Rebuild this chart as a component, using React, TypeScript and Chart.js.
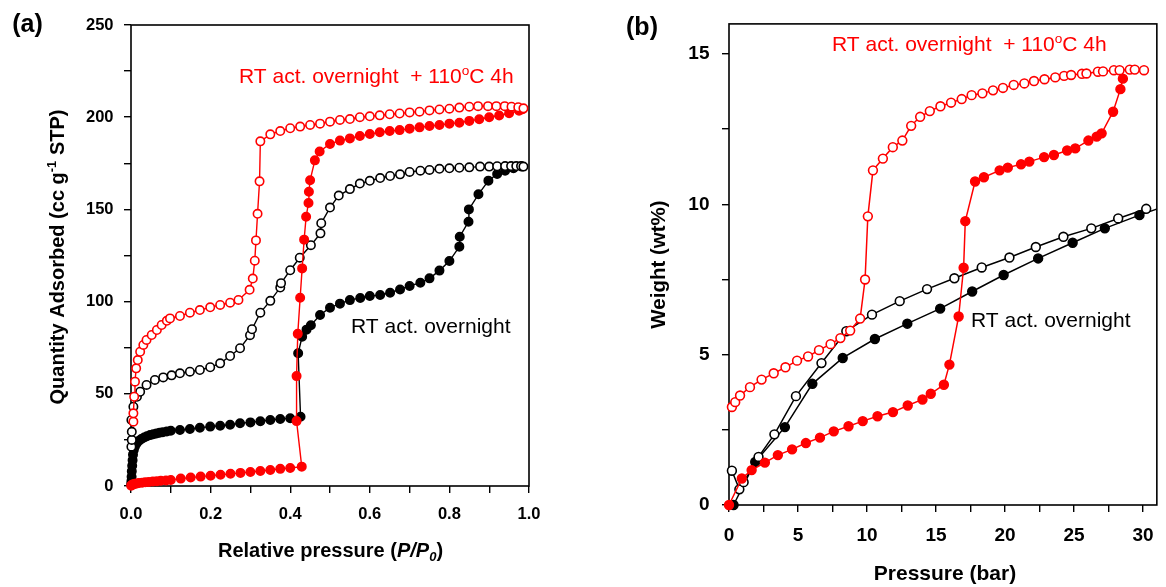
import React, { useEffect, useRef } from 'react';
import { Chart, registerables } from 'chart.js';

Chart.register(...registerables);

const FONT = '"Liberation Sans", Arial, Helvetica, sans-serif';

// ---------- Panel (a): Quantity adsorbed vs P/P0 ----------
const aXTicks = [0, 0.1, 0.2, 0.3, 0.4, 0.5, 0.6, 0.7, 0.8, 0.9, 1.0];
const aYTicks = [0, 25, 50, 75, 100, 125, 150, 175, 200, 225, 250];

// RT act. overnight + 110oC 4h, adsorption (filled red)
const aRedAds: [number, number][] = [
  [0.0005, 0.2], [0.002, 0.5], [0.004, 0.8], [0.007, 1.0], [0.01, 1.2], [0.015, 1.4], [0.02, 1.6],
  [0.028, 1.8], [0.036, 2.0], [0.045, 2.2], [0.055, 2.4], [0.065, 2.6], [0.075, 2.8], [0.088, 3.0],
  [0.1, 3.3], [0.125, 4.0], [0.15, 4.6], [0.175, 5.1], [0.2, 5.6], [0.225, 6.1], [0.25, 6.6],
  [0.275, 7.1], [0.3, 7.6], [0.325, 8.1], [0.35, 8.7], [0.375, 9.3], [0.4, 9.8], [0.429, 10.5],
  [0.416, 35.2], [0.416, 59.6], [0.419, 82.5], [0.425, 102.1], [0.43, 118], [0.435, 133.6],
  [0.44, 146], [0.446, 153.5], [0.447, 159.6], [0.45, 165.8], [0.462, 176.6], [0.474, 181.4],
  [0.5, 185.5], [0.525, 187.3], [0.55, 188.5], [0.575, 189.8], [0.6, 190.9], [0.625, 191.8],
  [0.65, 192.5], [0.675, 193], [0.7, 193.8], [0.725, 194.5], [0.75, 195.2], [0.775, 195.8],
  [0.8, 196.5], [0.825, 197], [0.85, 198], [0.875, 198.9], [0.9, 200], [0.925, 200.9],
  [0.95, 202.1], [0.975, 203.5], [0.984, 204.3],
];
// RT act. overnight + 110oC 4h, desorption (open red)
const aRedDes: [number, number][] = [
  [0.006, 34.9], [0.006, 39.4], [0.008, 48.4], [0.01, 56.6], [0.013, 63.8], [0.017, 68.3],
  [0.023, 72.8], [0.031, 76.5], [0.039, 79.2], [0.052, 81.9], [0.065, 84.6], [0.077, 87.3],
  [0.09, 89.6], [0.098, 90.9], [0.123, 92.2], [0.148, 94], [0.173, 95.4], [0.199, 96.9],
  [0.224, 98.2], [0.249, 99.4], [0.27, 100.9], [0.298, 106.4], [0.306, 112.5], [0.311, 122.2],
  [0.314, 133.2], [0.318, 147.6], [0.323, 165.2], [0.325, 186.9], [0.35, 190.7], [0.375, 192.5],
  [0.4, 194], [0.425, 194.9], [0.45, 195.8], [0.475, 196.5], [0.5, 197.6], [0.525, 198.5],
  [0.55, 199], [0.575, 200], [0.6, 200.5], [0.625, 201], [0.65, 201.6], [0.675, 202],
  [0.7, 202.6], [0.725, 203], [0.75, 203.7], [0.775, 204.2], [0.8, 204.6], [0.825, 205.2],
  [0.85, 205.7], [0.872, 206], [0.897, 206], [0.918, 206], [0.939, 206], [0.956, 205.7],
  [0.973, 205.4], [0.986, 204.8],
];
// RT act. overnight, adsorption (filled black)
const aBlackAds: [number, number][] = [
  [0.0005, 0.8], [0.001, 2.5], [0.0015, 5], [0.002, 8], [0.003, 11], [0.004, 14], [0.005, 17],
  [0.007, 19.5], [0.01, 21.5], [0.014, 23], [0.02, 24.5], [0.026, 25.5], [0.033, 26.3],
  [0.04, 27], [0.048, 27.6], [0.056, 28.1], [0.064, 28.5], [0.072, 28.9], [0.08, 29.2],
  [0.09, 29.6], [0.1, 30], [0.123, 30.4], [0.148, 30.9], [0.173, 31.6], [0.199, 32.2],
  [0.224, 32.7], [0.249, 33.2], [0.274, 34], [0.3, 34.5], [0.325, 35.1], [0.35, 35.8],
  [0.375, 36.3], [0.4, 36.7], [0.426, 37.6], [0.42, 72], [0.43, 81], [0.441, 84.8],
  [0.452, 87.2], [0.475, 92.7], [0.5, 96.7], [0.525, 98.9], [0.55, 100.8], [0.576, 102],
  [0.6, 103], [0.626, 103.6], [0.651, 104.8], [0.676, 106.6], [0.7, 108.5], [0.727, 110.2],
  [0.75, 112.6], [0.775, 116.8], [0.8, 122], [0.825, 129.8], [0.826, 135.2], [0.848, 143.3],
  [0.849, 150], [0.873, 158.2], [0.898, 165.6], [0.92, 169.2], [0.94, 171], [0.961, 172.3],
  [0.982, 173.2],
];
// RT act. overnight, desorption (open black)
const aBlackDes: [number, number][] = [
  [0.001, 21.3], [0.002, 25], [0.002, 29.4], [0.001, 35.8], [0.006, 43], [0.015, 48.4],
  [0.023, 51.1], [0.039, 54.8], [0.06, 57.5], [0.081, 58.9], [0.102, 60], [0.123, 61.1],
  [0.148, 62], [0.173, 62.9], [0.199, 64.4], [0.224, 66.5], [0.249, 70.5], [0.274, 74.7],
  [0.299, 81.8], [0.304, 85], [0.325, 94], [0.35, 100.4], [0.375, 107.6], [0.377, 110],
  [0.4, 117], [0.424, 123.8], [0.452, 130.6], [0.476, 137], [0.478, 142.5], [0.5, 151],
  [0.522, 157.5], [0.55, 161], [0.575, 164], [0.6, 165.5], [0.626, 167], [0.651, 168.1],
  [0.676, 169], [0.7, 170.3], [0.727, 171], [0.75, 171.4], [0.775, 172], [0.8, 172.3],
  [0.825, 172.6], [0.85, 172.8], [0.877, 173.2], [0.9, 173.2], [0.92, 173.4], [0.94, 173.5],
  [0.955, 173.5], [0.968, 173.5], [0.98, 173.5], [0.986, 173.2],
];

// ---------- Panel (b): Weight (wt%) vs Pressure (bar) ----------
const bXTicks = [0, 2.5, 5, 7.5, 10, 12.5, 15, 17.5, 20, 22.5, 25, 27.5, 30];
const bYTicks = [0, 2.5, 5, 7.5, 10, 12.5, 15];

const bRedAds: [number, number][] = [
  [0, 0], [0.93, 0.88], [1.64, 1.16], [2.6, 1.41], [3.54, 1.66], [4.57, 1.85], [5.57, 2.06],
  [6.59, 2.24], [7.59, 2.45], [8.66, 2.62], [9.69, 2.79], [10.76, 2.95], [11.88, 3.09],
  [12.95, 3.31], [14.02, 3.51], [14.62, 3.7], [15.57, 4.0], [15.97, 4.67], [16.64, 6.27],
  [17.0, 7.89], [17.12, 9.44], [17.83, 10.76], [18.47, 10.9], [19.61, 11.13], [20.2, 11.22],
  [21.16, 11.33], [21.76, 11.42], [22.83, 11.57], [23.54, 11.64], [24.5, 11.79], [25.09, 11.86],
  [26.04, 12.12], [26.64, 12.25], [27.0, 12.36], [27.83, 13.08], [28.36, 13.83], [28.54, 14.18],
];
const bRedDes: [number, number][] = [
  [0.21, 3.26], [0.45, 3.42], [0.8, 3.64], [1.52, 3.92], [2.36, 4.17], [3.24, 4.38], [4.09, 4.58],
  [4.93, 4.8], [5.73, 4.94], [6.52, 5.15], [7.36, 5.35], [8.07, 5.55], [8.78, 5.8], [9.5, 6.2],
  [9.86, 7.5], [10.06, 9.6], [10.43, 11.13], [11.15, 11.52], [11.87, 11.9], [12.56, 12.12],
  [13.2, 12.61], [13.85, 12.91], [14.55, 13.1], [15.32, 13.26], [16.09, 13.38], [16.86, 13.5],
  [17.58, 13.63], [18.36, 13.69], [19.13, 13.79], [19.85, 13.87], [20.63, 13.97], [21.4, 14.02],
  [22.1, 14.1], [22.86, 14.16], [23.64, 14.22], [24.28, 14.27], [24.79, 14.3], [25.57, 14.34],
  [25.9, 14.35], [26.73, 14.41], [27.1, 14.42], [27.89, 14.46], [28.3, 14.46], [29.04, 14.48],
  [29.4, 14.48], [30.07, 14.46],
];
const bBlackAds: [number, number][] = [
  [0.33, 0], [1.9, 1.43], [4.05, 2.59], [6.04, 4.03], [8.24, 4.89], [10.57, 5.52], [12.92, 6.03],
  [15.3, 6.53], [17.62, 7.1], [19.9, 7.65], [22.4, 8.2], [24.9, 8.72], [27.23, 9.2], [29.74, 9.64],
  [31.5, 9.92],
];
const bBlackDes: [number, number][] = [
  [0.21, 1.14], [0.75, 0.52], [1.06, 0.76], [2.14, 1.6], [3.29, 2.35], [4.85, 3.62], [6.7, 4.72],
  [8.5, 5.78], [10.36, 6.33], [12.37, 6.78], [14.35, 7.18], [16.33, 7.54], [18.31, 7.9],
  [20.32, 8.23], [22.23, 8.58], [24.23, 8.92], [26.25, 9.2], [28.2, 9.53], [30.23, 9.85],
];

const RED = '#ff0000';
const BLACK = '#000000';

type Seg = { t: string; it?: boolean; sub?: boolean; sup?: boolean };
type Label = {
  x: number; y: number; size: number; bold?: boolean; color: string;
  align: 'left' | 'center'; rot?: number; segs: Seg[];
};

function drawRich(ctx: CanvasRenderingContext2D, L: Label) {
  ctx.save();
  ctx.translate(L.x, L.y);
  if (L.rot) ctx.rotate(L.rot);
  ctx.fillStyle = L.color;
  ctx.textBaseline = 'alphabetic';
  ctx.textAlign = 'left';
  const fnt = (seg: Seg) => {
    const s = seg.sub || seg.sup ? L.size * 0.65 : L.size;
    return `${seg.it ? 'italic ' : ''}${L.bold ? 'bold ' : ''}${s}px ${FONT}`;
  };
  let total = 0;
  const widths = L.segs.map((seg) => {
    ctx.font = fnt(seg);
    const w = ctx.measureText(seg.t).width;
    total += w;
    return w;
  });
  let x = L.align === 'center' ? -total / 2 : 0;
  L.segs.forEach((seg, i) => {
    ctx.font = fnt(seg);
    const dy = seg.sub ? L.size * 0.2 : seg.sup ? -L.size * 0.4 : 0;
    ctx.fillText(seg.t, x, dy);
    x += widths[i];
  });
  ctx.restore();
}

function series(pts: [number, number][], color: string, filled: boolean, r: number, lw: number, clip?: any) {
  return {
    data: pts.map(([x, y]) => ({ x, y })),
    showLine: true,
    borderColor: color,
    borderWidth: lw,
    pointRadius: r,
    pointHoverRadius: r,
    pointBorderWidth: 1.6,
    pointBorderColor: color,
    pointBackgroundColor: filled ? color : '#ffffff',
    tension: 0,
    clip: clip || { left: 10, top: 10, right: 10, bottom: 10 },
  };
}

function axis(min: number, max: number, ticks: number[], labelFn: (v: number) => string, size: number, pad: number, fit: (s: any) => void) {
  return {
    type: 'linear' as const,
    min,
    max,
    afterBuildTicks: (s: any) => { s.ticks = ticks.map((v) => ({ value: v })); },
    afterFit: fit,
    ticks: {
      autoSkip: false, maxRotation: 0, minRotation: 0, padding: pad, color: '#000',
      font: { family: FONT, size, weight: 'bold' as const },
      callback: (v: any) => labelFn(Number(v)),
    },
    grid: { display: true, drawOnChartArea: false, drawTicks: true, tickLength: 7, color: '#000', lineWidth: 1.4 },
    border: { display: false },
  };
}

function decoPlugin(labels: Label[]) {
  return {
    id: 'deco',
    beforeDatasetsDraw(chart: any) {
      const { ctx, chartArea: c } = chart;
      ctx.save();
      ctx.strokeStyle = '#000';
      ctx.lineWidth = 1.6;
      ctx.strokeRect(c.left, c.top, c.right - c.left, c.bottom - c.top);
      ctx.restore();
    },
    afterDraw(chart: any) {
      labels.forEach((L) => drawRich(chart.ctx, L));
    },
  };
}

function baseOptions(padding: any, x: any, y: any) {
  return {
    responsive: false,
    animation: false as const,
    events: [] as any[],
    layout: { padding },
    plugins: { legend: { display: false }, tooltip: { enabled: false } },
    scales: { x, y },
  };
}

export default function App() {
  const refA = useRef<HTMLCanvasElement>(null);
  const refB = useRef<HTMLCanvasElement>(null);

  useEffect(() => {
    document.body.style.margin = '0';
    Chart.defaults.font.family = FONT;

    const labelsA: Label[] = [
      { x: 27.5, y: 31.5, size: 25, bold: true, color: '#000', align: 'center', segs: [{ t: '(a)' }] },
      {
        x: 330.5, y: 557.3, size: 20, bold: true, color: '#000', align: 'center',
        segs: [{ t: 'Relative pressure (' }, { t: 'P/P', it: true }, { t: '0', it: true, sub: true }, { t: ')' }],
      },
      {
        x: 64, y: 257, size: 20, bold: true, color: '#000', align: 'center', rot: -Math.PI / 2,
        segs: [{ t: 'Quantity Adsorbed (cc g' }, { t: '-1', sup: true }, { t: ' STP)' }],
      },
      {
        x: 239, y: 83.3, size: 21, color: RED, align: 'left',
        segs: [{ t: 'RT act. overnight  + 110' }, { t: 'o', sup: true }, { t: 'C 4h' }],
      },
      { x: 351, y: 333.1, size: 21, color: '#000', align: 'left', segs: [{ t: 'RT act. overnight' }] },
    ];

    const labelsB: Label[] = [
      { x: 59, y: 34.5, size: 25, bold: true, color: '#000', align: 'center', segs: [{ t: '(b)' }] },
      { x: 362, y: 580, size: 21, bold: true, color: '#000', align: 'center', segs: [{ t: 'Pressure (bar)' }] },
      {
        x: 82, y: 264.5, size: 20.5, bold: true, color: '#000', align: 'center', rot: -Math.PI / 2,
        segs: [{ t: 'Weight (wt%)' }],
      },
      {
        x: 249, y: 51.3, size: 21, color: RED, align: 'left',
        segs: [{ t: 'RT act. overnight  + 110' }, { t: 'o', sup: true }, { t: 'C 4h' }],
      },
      { x: 388, y: 327.2, size: 21, color: '#000', align: 'left', segs: [{ t: 'RT act. overnight' }] },
    ];

    const chartA = new Chart(refA.current as HTMLCanvasElement, {
      type: 'scatter',
      data: {
        datasets: [
          series(aRedDes, RED, false, 4.2, 1.4),
          series(aRedAds, RED, true, 4.2, 1.4),
          series(aBlackDes, BLACK, false, 4.2, 1.4),
          series(aBlackAds, BLACK, true, 4.2, 1.4),
        ] as any,
      },
      options: baseOptions(
        { left: 0, right: 54, top: 25, bottom: 0 },
        axis(0, 1, aXTicks, (v) => (Math.round(v * 10) % 2 === 0 ? v.toFixed(1) : ''), 16.5, 11.6, (s) => { s.height = 101; }),
        axis(0, 250, aYTicks, (v) => (Math.round(v) % 50 === 0 ? String(v) : ''), 16.5, 10.5, (s) => { s.width = 131; }),
      ) as any,
      plugins: [decoPlugin(labelsA)],
    });

    const chartB = new Chart(refB.current as HTMLCanvasElement, {
      type: 'scatter',
      data: {
        datasets: [
          series(bRedDes, RED, false, 4.4, 1.5),
          series(bRedAds, RED, true, 4.4, 1.5),
          series(bBlackDes, BLACK, false, 4.4, 1.5),
          series(bBlackAds, BLACK, true, 4.4, 1.5, { left: 10, top: 10, right: 0, bottom: 10 }),
        ] as any,
      },
      options: baseOptions(
        { left: 0, right: 4, top: 22, bottom: 0 },
        axis(0, 31, bXTicks, (v) => (Math.abs(v % 5) < 1e-9 ? String(v) : ''), 19, 12.2, (s) => { s.height = 82; }),
        axis(0, 16, bYTicks, (v) => (Math.abs(v % 5) < 1e-9 ? String(v) : ''), 19, 12.5, (s) => { s.width = 146; }),
      ) as any,
      plugins: [decoPlugin(labelsB)],
    });

    return () => {
      chartA.destroy();
      chartB.destroy();
    };
  }, []);

  return (
    <div style={{ position: 'absolute', left: 0, top: 0, width: 1166, height: 587, background: '#fff' }}>
      <canvas ref={refA} width={583} height={587} style={{ position: 'absolute', left: 0, top: 0, width: 583, height: 587 }} />
      <canvas ref={refB} width={583} height={587} style={{ position: 'absolute', left: 583, top: 0, width: 583, height: 587 }} />
    </div>
  );
}
